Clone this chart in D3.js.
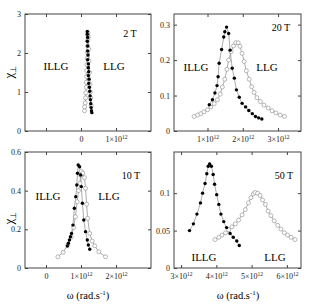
<!DOCTYPE html>
<html lang="en">
<head>
<meta charset="UTF-8">
<title>Susceptibility panels</title>
<script src="https://d3js.org/d3.v7.min.js"></script>
<style>
  body { margin: 0; background: white; }
  svg { font-family: "Liberation Serif", "Times New Roman", serif; }
  .tick line { stroke: #444; }
  .tick text { fill: #222; font-family: "Liberation Serif", serif; }
</style>
</head>
<body>
<svg id="chart" width="310" height="307"></svg>
<script>
// omega in units of 1e12 rad/s, chi_perp
const illg2T = [[0.18,2.55],[0.18,2.48],[0.19,2.40],[0.18,2.30],[0.19,2.18],[0.19,2.05],[0.20,1.95],[0.19,1.83],[0.21,1.72],[0.21,1.62],[0.22,1.52],[0.21,1.42],[0.23,1.33],[0.22,1.22],[0.24,1.12],[0.25,1.02],[0.26,0.90],[0.27,0.80],[0.28,0.70],[0.29,0.60],[0.30,0.52],[0.31,0.47]];
const llg2T = [[0.10,0.52],[0.105,0.62],[0.12,0.72],[0.13,0.85],[0.14,0.98],[0.15,1.12],[0.15,1.25],[0.16,1.40],[0.165,1.55],[0.17,1.70],[0.175,1.86],[0.18,2.02],[0.185,2.18],[0.19,2.32],[0.195,2.45],[0.20,2.52],[0.21,2.40],[0.22,2.10],[0.23,1.80],[0.245,1.50],[0.26,1.20],[0.27,1.00],[0.275,0.85],[0.29,0.65]];

const illg20T = [[1.05,0.074],[1.14,0.088],[1.21,0.107],[1.27,0.128],[1.30,0.153],[1.33,0.191],[1.40,0.230],[1.46,0.265],[1.49,0.280],[1.54,0.293],[1.60,0.275],[1.64,0.228],[1.70,0.177],[1.76,0.149],[1.82,0.116],[1.90,0.095],[1.98,0.078],[2.08,0.068],[2.17,0.058],[2.27,0.049],[2.36,0.041],[2.45,0.037],[2.54,0.034]];
const llg20T = [[0.62,0.041],[0.72,0.045],[0.81,0.049],[0.90,0.054],[1.00,0.060],[1.09,0.068],[1.19,0.077],[1.28,0.088],[1.36,0.104],[1.42,0.124],[1.49,0.146],[1.55,0.174],[1.60,0.200],[1.67,0.224],[1.74,0.240],[1.80,0.249],[1.87,0.249],[1.92,0.239],[1.98,0.219],[2.04,0.196],[2.10,0.170],[2.18,0.146],[2.25,0.125],[2.32,0.109],[2.40,0.094],[2.50,0.083],[2.60,0.073],[2.72,0.065],[2.83,0.057],[2.94,0.051],[3.06,0.045],[3.18,0.041]];

const illg10T = [[0.61,0.114],[0.64,0.128],[0.67,0.145],[0.70,0.162],[0.73,0.179],[0.77,0.222],[0.81,0.309],[0.85,0.369],[0.88,0.429],[0.90,0.490],[0.92,0.533],[0.96,0.524],[0.99,0.481],[1.01,0.421],[1.04,0.335],[1.08,0.248],[1.13,0.188],[1.18,0.145],[1.21,0.119],[1.25,0.097]];
const llg10T = [[0.34,0.058],[0.49,0.081],[0.62,0.119],[0.72,0.160],[0.79,0.210],[0.84,0.265],[0.89,0.343],[0.93,0.400],[0.97,0.438],[0.99,0.480],[1.01,0.500],[1.05,0.490],[1.10,0.467],[1.13,0.412],[1.16,0.330],[1.19,0.257],[1.25,0.179],[1.32,0.140],[1.39,0.115],[1.51,0.084],[1.70,0.058]];

const illg50T = [[3.24,0.050],[3.35,0.059],[3.45,0.072],[3.55,0.087],[3.61,0.100],[3.68,0.113],[3.73,0.126],[3.77,0.136],[3.81,0.139],[3.86,0.136],[3.91,0.125],[3.95,0.112],[4.01,0.098],[4.07,0.085],[4.13,0.072],[4.21,0.062],[4.29,0.054],[4.39,0.046],[4.48,0.041],[4.58,0.036],[4.65,0.030]];
const llg50T = [[3.96,0.038],[4.07,0.041],[4.16,0.044],[4.26,0.047],[4.35,0.051],[4.44,0.055],[4.54,0.059],[4.63,0.064],[4.73,0.071],[4.82,0.078],[4.91,0.087],[4.98,0.094],[5.05,0.099],[5.10,0.101],[5.17,0.100],[5.24,0.097],[5.31,0.091],[5.39,0.085],[5.47,0.076],[5.55,0.070],[5.64,0.063],[5.74,0.057],[5.83,0.052],[5.93,0.047],[6.02,0.044],[6.12,0.041],[6.23,0.038]];

const fieldLabels = ["2 T", "20 T", "10 T", "50 T"];
const xDomains = [[-1.6, 2.0], [0.05, 3.65], [-0.6, 3.0], [2.8, 6.4]];
const yDomains = [[0, 3], [0, 0.33], [0, 0.6], [0, 0.155]];
const xTicks = [[-1, 0, 1], [1, 2, 3], [0, 1, 2], [3, 4, 5, 6]];
const xLabelled = [[0, 1], [1, 2, 3], [0, 1, 2], [3, 4, 5, 6]];
const yTicks = [[0, 1, 2, 3], [0, 0.1, 0.2, 0.3], [0, 0.2, 0.4, 0.6], [0, 0.05, 0.1]];
const series = [[illg2T, llg2T], [illg20T, llg20T], [illg10T, llg10T], [illg50T, llg50T]];

// panel boxes and text positions (pixels)
const panels = [
  {x0: 25, x1: 151, y0: 14, y1: 131, field: [130, 37], illg: [56, 70], llg: [114, 70]},
  {x0: 174, x1: 301, y0: 14, y1: 131, field: [281, 31], illg: [196, 71], llg: [267, 71]},
  {x0: 25, x1: 151, y0: 152, y1: 268, field: [131, 179], illg: [48, 200], llg: [109, 200]},
  {x0: 174, x1: 301, y0: 152, y1: 268, field: [284, 179], illg: [204, 261], llg: [275, 261]}
];

const svg = d3.select("#chart");

panels.forEach((p, i) => {
  let x = d3.scaleLinear().domain(xDomains[i]).range([p.x0, p.x1]);
  let y = d3.scaleLinear().domain(yDomains[i]).range([p.y1, p.y0]);
  let g = svg.append("g");

  // x axes, ticks inward on top and bottom
  let bottom = g.append("g")
    .attr("transform", `translate(0,${p.y1})`)
    .call(d3.axisBottom(x).tickValues(xTicks[i]).tickSizeInner(-3).tickSizeOuter(0).tickPadding(5)
      .tickFormat(d => xLabelled[i].includes(d) ? (d === 0 ? "0" : d + "\u00d710") : ""));
  bottom.selectAll("text")
    .attr("font-size", 8)
    .each(function(d) {
      if (d !== 0 && xLabelled[i].includes(d)) {
        d3.select(this).append("tspan").attr("dy", -3).attr("font-size", 5.5).text("12");
      }
    });
  g.append("g")
    .attr("transform", `translate(0,${p.y0})`)
    .call(d3.axisTop(x).tickValues(xTicks[i]).tickSizeInner(-3).tickSizeOuter(0).tickFormat(""));

  // y axes
  g.append("g")
    .attr("transform", `translate(${p.x0},0)`)
    .call(d3.axisLeft(y).tickValues(yTicks[i]).tickSizeInner(-3).tickSizeOuter(0).tickPadding(4)
      .tickFormat(d => d === 0 ? "0" : d3.format("~g")(d)))
    .selectAll("text").attr("font-size", 8);
  g.append("g")
    .attr("transform", `translate(${p.x1},0)`)
    .call(d3.axisRight(y).tickValues(yTicks[i]).tickSizeInner(-3).tickSizeOuter(0).tickFormat(""));

  g.selectAll(".domain").remove();

  // frame
  g.append("rect")
    .attr("x", p.x0).attr("y", p.y0)
    .attr("width", p.x1 - p.x0).attr("height", p.y1 - p.y0)
    .attr("fill", "none").attr("stroke", "#444").attr("stroke-width", 1);

  let line = d3.line().x(d => x(d[0])).y(d => y(d[1]));
  let [illg, llg] = series[i];

  [llg, illg].forEach(s => {
    g.append("path").datum(s)
      .attr("d", line)
      .attr("fill", "none").attr("stroke", "#888").attr("stroke-width", 0.7);
  });

  g.selectAll(".open").data(llg).enter().append("circle")
    .attr("cx", d => x(d[0])).attr("cy", d => y(d[1])).attr("r", 2)
    .attr("fill", "white").attr("stroke", "#8a8a8a").attr("stroke-width", 0.6);
  g.selectAll(".filled").data(illg).enter().append("circle")
    .attr("cx", d => x(d[0])).attr("cy", d => y(d[1])).attr("r", 1.7)
    .attr("fill", "#000");

  // labels
  g.append("text").attr("x", p.field[0]).attr("y", p.field[1])
    .attr("text-anchor", "middle").attr("font-size", 10).text(fieldLabels[i]);
  g.append("text").attr("x", p.illg[0]).attr("y", p.illg[1])
    .attr("text-anchor", "middle").attr("font-size", 11).text("ILLG");
  g.append("text").attr("x", p.llg[0]).attr("y", p.llg[1])
    .attr("text-anchor", "middle").attr("font-size", 11).text("LLG");
});

// axis titles
[72, 218].forEach(cy => {
  let t = svg.append("text")
    .attr("transform", `translate(13,${cy}) rotate(-90)`)
    .attr("text-anchor", "middle").attr("font-size", 13);
  t.append("tspan").text("\u03c7");
  t.append("tspan").attr("font-size", 8).attr("dy", 3).text("\u22a5");
});
[88, 238].forEach(cx => {
  let t = svg.append("text")
    .attr("x", cx).attr("y", 299)
    .attr("text-anchor", "middle").attr("font-size", 10.5);
  t.append("tspan").text("\u03c9 (rad.s");
  t.append("tspan").attr("font-size", 7).attr("dy", -4).text("-1");
  t.append("tspan").attr("dy", 4).text(")");
});
</script>
</body>
</html>
